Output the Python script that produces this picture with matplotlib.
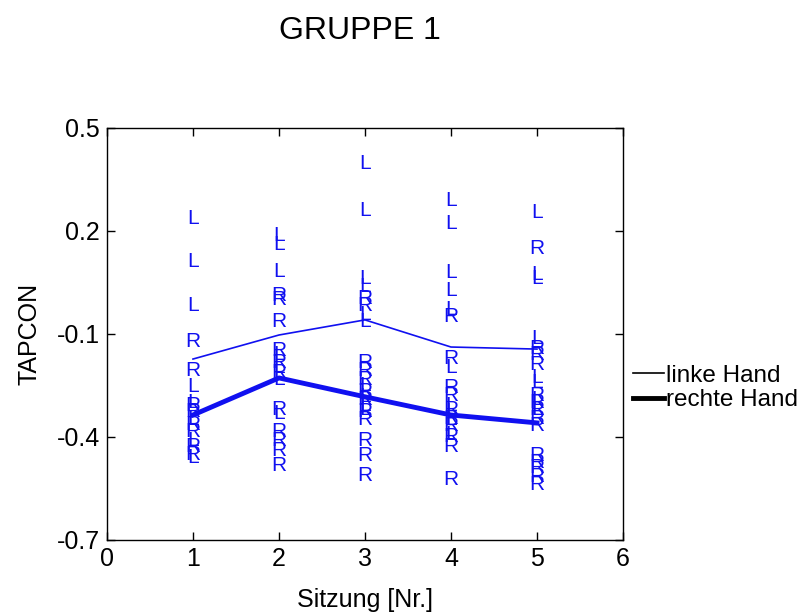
import matplotlib
matplotlib.use('Agg')
import matplotlib.pyplot as plt
from matplotlib.lines import Line2D

plt.rcParams['font.family'] = ['Liberation Sans', 'DejaVu Sans']

# Sitzungen (x) and single values per hand
sessions = [1, 2, 3, 4, 5]

links = [
    [0.235, 0.110, -0.016, -0.254, -0.301, -0.350, -0.409, -0.461],
    [0.188, 0.162, 0.081, -0.161, -0.199, -0.234, -0.333],
    [0.398, 0.261, 0.063, 0.037, -0.042, -0.065, -0.251, -0.281, -0.307, -0.321],
    [0.290, 0.223, 0.078, 0.028, -0.030, -0.199, -0.307, -0.327, -0.350, -0.394],
    [0.255, 0.072, 0.063, -0.112, -0.228, -0.240, -0.292, -0.321],
]
rechts = [
    [-0.123, -0.205, -0.307, -0.327, -0.365, -0.385, -0.429, -0.452],
    [0.011, -0.001, -0.065, -0.147, -0.182, -0.211, -0.321, -0.385, -0.409, -0.438, -0.482],
    [0.002, -0.018, -0.182, -0.205, -0.234, -0.269, -0.292, -0.327, -0.350, -0.409, -0.455, -0.511],
    [-0.048, -0.170, -0.257, -0.278, -0.321, -0.345, -0.368, -0.400, -0.429, -0.525],
    [0.150, -0.141, -0.161, -0.190, -0.278, -0.301, -0.321, -0.345, -0.368, -0.455, -0.473, -0.490, -0.514, -0.537],
]

# Mittelwerte (lines)
mean_links = [-0.173, -0.103, -0.059, -0.138, -0.144]
mean_rechts = [-0.336, -0.228, -0.283, -0.336, -0.359]

blue = '#1010f0'

fig = plt.figure(figsize=(8.05, 6.15), dpi=100)
ax = fig.add_axes([0.1329, 0.1220, 0.6410, 0.6699])

for x, vals in zip(sessions, links):
    for v in vals:
        ax.text(x, v, 'L', color=blue, fontsize=15, ha='center', va='center')
for x, vals in zip(sessions, rechts):
    for v in vals:
        ax.text(x, v, 'R', color=blue, fontsize=15, ha='center', va='center')

ax.plot(sessions, mean_links, color=blue, lw=1.2)
ax.plot(sessions, mean_rechts, color=blue, lw=3.5)

ax.set_xlim(0, 6)
ax.set_ylim(-0.7, 0.5)
ax.set_xticks([0, 1, 2, 3, 4, 5, 6])
ax.set_yticks([0.5, 0.2, -0.1, -0.4, -0.7])
ax.set_yticklabels(['0.5', '0.2', '-0.1', '-0.4', '-0.7'])
ax.tick_params(direction='in', top=True, right=True, length=6, labelsize=18, width=1, pad=5)
for s in ax.spines.values():
    s.set_linewidth(1)

ax.set_xlabel('Sitzung [Nr.]', fontsize=18, labelpad=12)
ax.set_ylabel('TAPCON', fontsize=18, labelpad=11)
fig.text(0.447, 0.950, 'GRUPPE 1', fontsize=23, ha='center', va='center')

handles = [Line2D([], [], color='black', lw=1.2), Line2D([], [], color='black', lw=3.5)]
ax.legend(handles, ['linke Hand', 'rechte Hand'], loc='center left',
          bbox_to_anchor=(1.0, 0.369), frameon=False, fontsize=17.5,
          handlelength=1.3, handletextpad=0.05, labelspacing=0.1,
          borderpad=0.0, borderaxespad=0.4)

fig.savefig('out.png', dpi=100)
